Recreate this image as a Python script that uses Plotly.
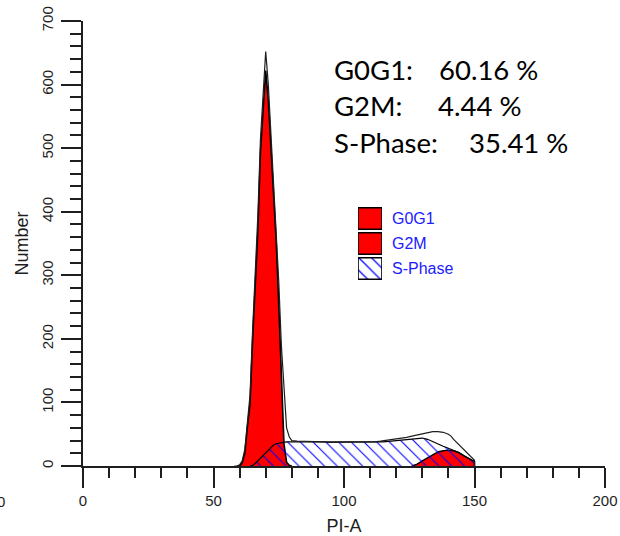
import plotly.graph_objects as go

# ---------------- data ----------------
# measured histogram outline (PI-A channel vs Number)
data_x = [58, 59, 60, 61, 62, 63, 64, 65, 66, 67, 68, 69, 70, 71, 72, 73, 74, 75, 76, 77, 78, 79,
          80, 82, 84, 86, 88, 90, 92, 94, 96, 98, 100, 102, 104, 106, 108, 110, 112, 114, 116, 118,
          120, 122, 124, 126, 128, 130, 132, 134, 136, 138, 140, 141, 142, 144, 146, 148, 150, 150]
data_y = [0, 0, 2, 8, 26, 70, 112, 215, 300, 395, 515, 590, 652, 600, 522, 450, 380, 290, 190, 120, 60, 46,
          40, 39, 39, 38, 38, 38, 38, 37, 37, 37, 37, 37, 37, 37, 38, 38, 38, 39, 40, 41,
          42, 43, 45, 47, 49, 51, 52, 54, 54, 53, 50, 47, 42, 34, 26, 17, 9, 0]

# G0G1 fitted peak
g0g1_x = [59, 60, 61, 62, 63, 64, 65, 66, 67, 68, 69, 70, 71, 72, 73, 74, 75, 76, 77, 78, 79, 80]
g0g1_y = [0, 0, 5, 20, 62, 98, 200, 280, 370, 495, 565, 622, 575, 500, 425, 355, 255, 150, 35, 6, 1, 0]

# G2M fitted peak
g2m_x = [126, 128, 130, 132, 134, 136, 138, 140, 142, 144, 146, 148, 150, 150]
g2m_y = [0, 3, 8, 13, 18, 22, 24, 25, 24, 21, 16, 11, 7, 0]

# S-Phase fitted region
sphase_x = [64, 65, 66, 67, 68, 69, 70, 71, 72, 73, 74, 75, 76, 77, 78, 80, 85, 90, 95, 100, 105, 110,
            115, 120, 125, 128, 130, 132, 134, 136, 138, 140, 142, 144, 146, 148, 150, 150]
sphase_y = [0, 1, 4, 8, 12, 16, 20, 25, 29, 33, 35, 36, 37, 38, 38, 38, 38, 37, 37, 37, 37, 37,
            38, 40, 42, 44, 44, 42, 38, 34, 31, 28, 25, 21, 16, 11, 7, 0]

# percentages text
stat_labels = ["G0G1:", "G2M:", "S-Phase:"]
stat_values = ["60.16 %", "4.44 %", "35.41 %"]

# legend entries
legend_labels = ["G0G1", "G2M", "S-Phase"]

x_ticks = [0, 50, 100, 150, 200]
y_ticks = [0, 100, 200, 300, 400, 500, 600, 700]

# ---------------- figure ----------------
W, H = 620, 536
ML, MR, MT, MB = 83, 15, 21, 70
PW, PH = W - ML - MR, H - MT - MB


def px(X):
    return (X - ML) / PW


def py(Y):
    return (H - MB - Y) / PH


RED = "#ff0000"
BLUE = "#0000ff"
INK = "#1e1e1e"

fig = go.Figure()

fig.add_trace(go.Scatter(x=g0g1_x, y=g0g1_y, mode="lines", fill="tozeroy",
                         fillcolor=RED, line=dict(color="black", width=1.6),
                         showlegend=False, hoverinfo="skip"))
fig.add_trace(go.Scatter(x=g2m_x, y=g2m_y, mode="lines", fill="tozeroy",
                         fillcolor=RED, line=dict(color="black", width=1.4),
                         showlegend=False, hoverinfo="skip"))
fig.add_trace(go.Scatter(x=sphase_x, y=sphase_y, mode="lines", fill="tozeroy",
                         fillcolor="rgba(0,0,0,0)",
                         fillpattern=dict(shape="\\", fgcolor=BLUE, fgopacity=1,
                                          bgcolor="rgba(0,0,0,0)",
                                          size=9, solidity=0.12, fillmode="overlay"),
                         line=dict(color="black", width=1.2),
                         showlegend=False, hoverinfo="skip"))
fig.add_trace(go.Scatter(x=data_x, y=data_y, mode="lines",
                         line=dict(color=INK, width=1.2),
                         showlegend=False, hoverinfo="skip"))

# legend drawn as an inset with boxes (one bar per entry)
fig.add_trace(go.Bar(x=[1], y=[0], orientation="h", width=0.86,
                     marker=dict(color=RED, line=dict(color="black", width=1.6)),
                     xaxis="x2", yaxis="y2", showlegend=False, hoverinfo="skip"))
fig.add_trace(go.Bar(x=[1], y=[1], orientation="h", width=0.86,
                     marker=dict(color=RED, line=dict(color="black", width=1.6)),
                     xaxis="x2", yaxis="y2", showlegend=False, hoverinfo="skip"))
fig.add_trace(go.Bar(x=[1], y=[2], orientation="h", width=0.86,
                     marker=dict(color="white", line=dict(color="black", width=1.6),
                                 pattern=dict(shape="\\", fgcolor=BLUE, fgopacity=1,
                                              bgcolor="white", size=9, solidity=0.14)),
                     xaxis="x2", yaxis="y2", showlegend=False, hoverinfo="skip"))

axis_font = dict(family="Liberation Sans, Arial", size=15, color=INK)

fig.update_layout(
    width=W, height=H,
    margin=dict(l=ML, r=MR, t=MT, b=MB, autoexpand=False),
    paper_bgcolor="white", plot_bgcolor="white",
    showlegend=False, barmode="overlay",
    xaxis=dict(range=[0, 200], tickmode="array", tickvals=x_ticks,
               showline=True, linecolor=INK, linewidth=1.5,
               ticks="outside", ticklen=20, tickwidth=1.5, tickcolor=INK,
               minor=dict(dtick=10, tick0=0, ticks="outside", ticklen=10, tickwidth=1.5,
                          tickcolor=INK),
               showgrid=False, zeroline=False, tickfont=axis_font, ticklabelstandoff=0,
               title=dict(text="PI-A", font=dict(family="Liberation Sans, Arial", size=18,
                                                 color=INK), standoff=16)),
    yaxis=dict(range=[0, 700], tickmode="array", tickvals=y_ticks, tickangle=-90,
               showline=True, linecolor=INK, linewidth=1.5,
               ticks="outside", ticklen=20, tickwidth=1.5, tickcolor=INK,
               minor=dict(dtick=20, tick0=0, ticks="outside", ticklen=11, tickwidth=1.5,
                          tickcolor=INK),
               showgrid=False, zeroline=False, tickfont=axis_font, ticklabelstandoff=2,
               title=dict(text="Number", font=dict(family="Liberation Sans, Arial", size=18,
                                                   color=INK), standoff=6)),
    xaxis2=dict(domain=[px(358), px(382)], range=[0, 1], anchor="y2",
                visible=False, fixedrange=True),
    yaxis2=dict(domain=[py(281), py(206)], range=[2.5, -0.5], anchor="x2", side="right",
                tickmode="array", tickvals=[0, 1, 2], ticktext=legend_labels,
                tickfont=dict(family="Liberation Sans, Arial", size=16, color="#2020ff"),
                showline=False, showgrid=False, zeroline=False, ticks="",
                ticklabelstandoff=9, fixedrange=True),
)

annotations = []
rows_y = [70, 105, 142]
value_x = [437, 436, 467]
for lab, val, yy, vx in zip(stat_labels, stat_values, rows_y, value_x):
    annotations.append(dict(text=lab, x=px(332), y=py(yy), xref="paper", yref="paper",
                            xanchor="left", yanchor="middle", showarrow=False,
                            font=dict(family="Lato", size=27.5, color="black")))
    annotations.append(dict(text=val, x=px(vx), y=py(yy), xref="paper", yref="paper",
                            xanchor="left", yanchor="middle", showarrow=False,
                            font=dict(family="Lato", size=27.5, color="black")))
# clipped label of a neighbouring panel at the left edge
annotations.append(dict(text="0", x=px(1), y=py(501), xref="paper", yref="paper",
                        xanchor="center", yanchor="middle", showarrow=False,
                        font=axis_font))
fig.update_layout(annotations=annotations)

fig.write_html("out.html", config={"displayModeBar": False},
               post_script="document.body.style.margin='0';")
